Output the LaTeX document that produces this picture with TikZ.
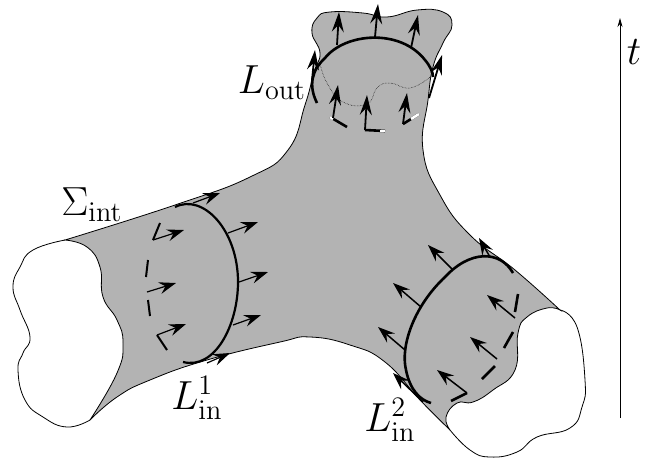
\documentclass[tikz,border=0pt]{standalone}
\usepackage{xcolor}
\usepackage{tikz}
\usetikzlibrary{arrows.meta}
\definecolor{surfgray}{HTML}{B3B3B3}
\tikzset{
  surfline/.style={draw=black, line width=0.8pt},
  loopline/.style={line width=2.6pt, line cap=butt},
  thickarrow/.style={line width=1.8pt, -{Stealth[length=20pt, width=12pt, inset=7pt]}},
  thinarrow/.style={line width=1.2pt, -{Stealth[length=17pt, width=12pt, inset=6pt]}},
  biglabel/.style={inner sep=0pt, scale=2.35, font=\LARGE},
}
\begin{document}
\begin{tikzpicture}[x=1pt, y=-1pt]
  \useasboundingbox (0,0) rectangle (650,459);
  % surface
  \path[fill=surfgray, surfline]
    plot[smooth, tension=.8] coordinates {(65,240) (175,205) (250,177) (288,150) (305,105) (314,72) (320,53) (312,33) (317,18) (330,12) (363,13) (387,17) (417,10) (443,12) (452,25) (443,43) (433,67) (428,100) (423,150) (440,195) (470,235) (515,270) (560,310)}
    -- plot[smooth, tension=.8] coordinates {(560,310) (547,308) (527,317) (518,333) (515,370) (493,390) (473,402) (457,403) (446,417) (450,430)}
    -- plot[smooth, tension=.8] coordinates {(450,430) (420,400) (385,362) (350,345) (310,337) (280,342) (207,360) (150,380) (117,397) (90,420)}
    -- plot[smooth, tension=.8] coordinates {(90,420) (117,373) (123,343) (117,320) (103,297) (100,267) (87,247) (65,240)}
    -- cycle;
  % tube ends
  \draw[surfline] plot[smooth, tension=.8] coordinates {(65,240) (33,250) (20,267) (13,287) (20,310) (30,337) (23,353) (18,370) (25,400) (43,417) (67,427) (90,420)};
  \draw[surfline] plot[smooth, tension=.8] coordinates {(450,430) (470,450) (490,457) (517,452) (537,437) (570,428) (582,407) (585,380) (577,327) (560,310)};
  % outgoing loop
  \draw[densely dotted, line width=0.5pt] plot[smooth, tension=.8] coordinates {(320,63) (327,83) (343,102) (367,104) (377,88) (390,83) (410,88) (430,77)};
  \draw[loopline] (317,103) .. controls (308,85) and (312,70) .. (325,58) .. controls (345,33) and (400,28) .. (425,60) .. controls (430,66) and (433,72) .. (433,77);
  \draw[loopline] (330,117) -- (347,127);
  \draw[loopline, white] (330,117) -- (333,119);
  \draw[loopline] (365,130) -- (385,131);
  \draw[loopline, white] (380,131) -- (385,131);
  \draw[loopline] (403,124) -- (419,114);
  \draw[loopline, white] (411,119) -- (419,114);
  \foreach \xa/\ya/\xb/\yb in {337/45/339/12, 375/37/378/4, 411/48/418/15,
      312/80/315/50, 429/98/442/55, 333/118/338/85, 365/130/367/95, 403/124/407/93}
    \draw[thickarrow] (\xa,\ya) -- (\xb,\yb);
  % first incoming loop
  \draw[loopline, line width=2.2pt] (175,207) .. controls (203,193) and (238,230) .. (238,282) .. controls (238,325) and (215,370) .. (183,362);
  \foreach \xa/\ya/\xb/\yb in {153/240/160/223, 146/277/148/260, 148/300/150/316, 157/335/167/350}
    \draw[loopline, line width=2pt] (\xa,\ya) -- (\xb,\yb);
  \foreach \xa/\ya/\xb/\yb in {193/203/220/193, 228/233/258/222, 239/282/268/272, 233/325/261/315,
      207/363/230/353, 153/240/184/230, 147/292/176/283, 157/335/186/324}
    \draw[thinarrow] (\xa,\ya) -- (\xb,\yb);
  % second incoming loop
  \draw[loopline] (513,273) .. controls (500,250) and (470,250) .. (445,277) .. controls (415,305) and (400,345) .. (406,370) .. controls (410,390) and (420,400) .. (431,403);
  \foreach \xa/\ya/\xb/\yb in {518/294/515/312, 513/332/504/348, 495/366/482/379, 467/393/451/401}
    \draw[loopline] (\xa,\ya) -- (\xb,\yb);
  \foreach \xa/\ya/\xb/\yb in {490/257/479/238, 453/270/428/245, 421/307/393/283, 405/350/378/327,
      423/402/393/373, 515/318/487/295, 497/359/470/337, 467/393/437/370}
    \draw[thinarrow, line width=1.5pt] (\xa,\ya) -- (\xb,\yb);
  % time axis
  \coordinate (tstart) at (620,418);
  \coordinate (tend) at (620,18);
  \draw[line width=0.8pt, -{Stealth[length=9pt, width=5pt, inset=3pt]}] (tstart) -- (tend);
  % labels
  \node[biglabel] (tlabel) at (634,52) {$t$};
  \node[biglabel] (lout) at (272,83) {$L_{\mathrm{out}}$};
  \node[biglabel] (sigmaint) at (92,205) {$\Sigma_{\mathrm{int}}$};
  \node[biglabel] (linone) at (197,398) {$L_{\mathrm{in}}^{1}$};
  \node[biglabel] (lintwo) at (390,420) {$L_{\mathrm{in}}^{2}$};
\end{tikzpicture}
\end{document}
